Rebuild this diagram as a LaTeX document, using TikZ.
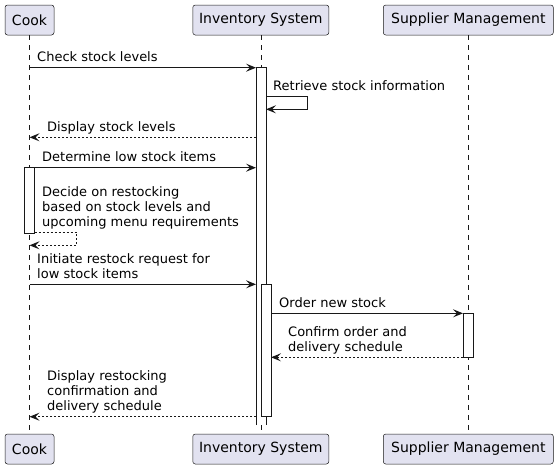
\documentclass[tikz,border=0pt]{standalone}
\usepackage{fontspec}
\setmainfont{DejaVu Sans}
\usetikzlibrary{arrows.meta,positioning,calc}
\definecolor{umlBorder}{HTML}{181818}
\definecolor{umlFill}{HTML}{E2E2F0}

\begin{document}
\begin{tikzpicture}[x=1pt, y=-1pt,
		participant/.style={
				draw=umlBorder, fill=umlFill, line width=0.5pt,
				rounded corners=2.5pt, minimum height=30pt, inner sep=0pt,
				font=\fontsize{14}{16}\selectfont
			},
		lifeLine/.style={draw=umlBorder, line width=0.5pt, dash pattern=on 5pt off 5pt},
		activationBar/.style={draw=umlBorder, fill=white, line width=1pt},
		msgLabel/.style={
				anchor=south west, inner sep=0pt, align=left,
				font=\fontsize{13}{15}\selectfont, execute at end node=\strut
			},
		callArrow/.style={draw=umlBorder, line width=1pt, -{Stealth[length=10pt, width=8pt, inset=4pt]}},
		replyArrow/.style={callArrow, dash pattern=on 2pt off 2pt}
	]
	\useasboundingbox (0,0) rectangle (556,469);

	% Participants, top and bottom
	\node[participant, minimum width=49pt] (cookTop) at (29.5,20) {Cook};
	\node[participant, minimum width=136pt] (invTop) at (260.8,20) {Inventory System};
	\node[participant, minimum width=170pt] (supTop) at (468.3,20) {Supplier Management};
	\node[participant, minimum width=49pt] (cookBot) at (29.5,449) {Cook};
	\node[participant, minimum width=136pt] (invBot) at (260.8,449) {Inventory System};
	\node[participant, minimum width=170pt] (supBot) at (468.3,449) {Supplier Management};

	% Lifelines
	\draw[lifeLine] (cookTop.south) -- (cookBot.north);
	\draw[lifeLine] (invTop.south) -- (invBot.north);
	\draw[lifeLine] (supTop.south) -- (supBot.north);

	% Message end points
	\coordinate (checkFrom) at (cookTop |- 0,67.7);
	\coordinate (checkTo) at (256,67.7);
	\coordinate (retrieveA) at (266,96.7);
	\coordinate (retrieveB) at (307.7,109.3);
	\coordinate (retrieveC) at (266,109.3);
	\coordinate (showFrom) at (256,137.3);
	\coordinate (showTo) at (cookTop |- 0,137.3);
	\coordinate (lowFrom) at (cookTop |- 0,167.7);
	\coordinate (lowTo) at (256,167.7);
	\coordinate (decideA) at (34.5,232.3);
	\coordinate (decideB) at (76.7,245.3);
	\coordinate (decideC) at (cookTop |- 0,245.3);
	\coordinate (requestFrom) at (cookTop |- 0,284.3);
	\coordinate (requestTo) at (256,284.3);
	\coordinate (orderFrom) at (271,313.3);
	\coordinate (orderTo) at (463,313.3);
	\coordinate (confirmFrom) at (463,357.3);
	\coordinate (confirmTo) at (271,357.3);
	\coordinate (doneFrom) at (256,416.7);
	\coordinate (doneTo) at (cookTop |- 0,416.7);

	% Messages
	\draw[callArrow] (checkFrom) -- (checkTo);
	\draw[callArrow] (retrieveA) -| (retrieveB) -- (retrieveC);
	\draw[replyArrow] (showFrom) -- (showTo);
	\draw[callArrow] (lowFrom) -- (lowTo);
	\draw[replyArrow] (decideA) -| (decideB) -- (decideC);
	\draw[callArrow] (requestFrom) -- (requestTo);
	\draw[callArrow] (orderFrom) -- (orderTo);
	\draw[replyArrow] (confirmFrom) -- (confirmTo);
	\draw[replyArrow] (doneFrom) -- (doneTo);

	% Activations
	\fill[white] (256,67.7) rectangle (266,425);
	\draw[umlBorder, line width=1pt] (256,425) |- (266,67.7) -- (266,425);
	\draw[activationBar] (24.5,167.7) rectangle (34.5,233.3);
	\draw[activationBar] (261,284.3) rectangle (271,416.7);
	\draw[activationBar] (463,313.3) rectangle (473,357.3);

	% Labels
	\node[msgLabel] (checkLbl) at (37,66.5) {Check stock levels};
	\node[msgLabel] (retrieveLbl) at (273,95.5) {Retrieve stock information};
	\node[msgLabel] (showLbl) at (47,136.1) {Display stock levels};
	\node[msgLabel] (lowLbl) at (42,166.5) {Determine low stock items};
	\node[msgLabel] (decideLbl) at (42,231.1) {Decide on restocking\\based on stock levels and\\upcoming menu requirements};
	\node[msgLabel] (requestLbl) at (37,283.1) {Initiate restock request for\\low stock items};
	\node[msgLabel] (orderLbl) at (279,312.1) {Order new stock};
	\node[msgLabel] (confirmLbl) at (288,356.1) {Confirm order and\\delivery schedule};
	\node[msgLabel] (doneLbl) at (47,415.5) {Display restocking\\confirmation and\\delivery schedule};
\end{tikzpicture}
\end{document}
